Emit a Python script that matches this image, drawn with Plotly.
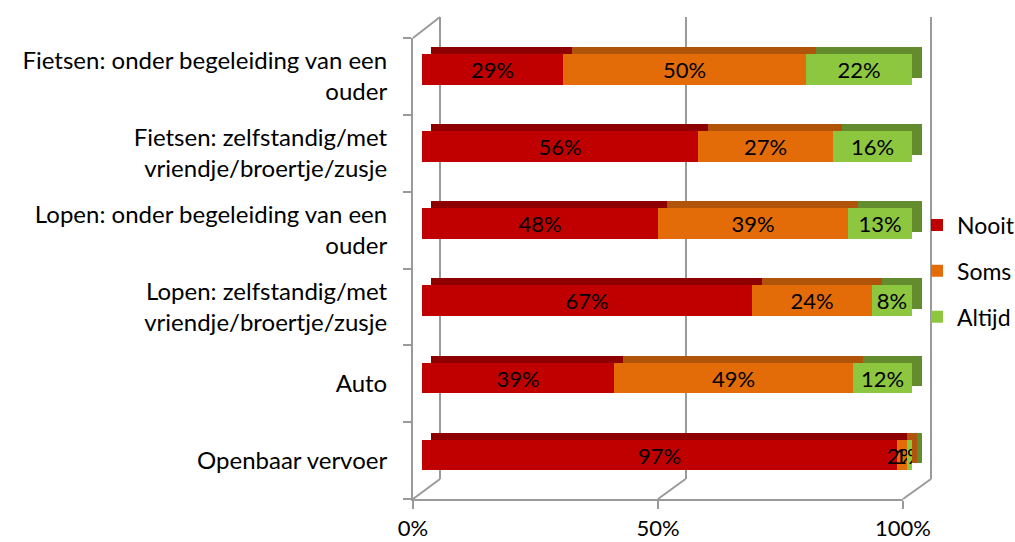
import plotly.graph_objects as go

# ---------------- data ----------------
categories = [
    "Fietsen: onder begeleiding van een<br>ouder",
    "Fietsen: zelfstandig/met<br>vriendje/broertje/zusje",
    "Lopen: onder begeleiding van een<br>ouder",
    "Lopen: zelfstandig/met<br>vriendje/broertje/zusje",
    "Auto",
    "Openbaar vervoer",
]
nooit = [28.7, 56.4, 48.1, 67.4, 39.1, 96.9]
soms = [49.7, 27.4, 38.9, 24.4, 48.9, 2.0]
altijd = [21.6, 16.2, 13.0, 8.2, 12.0, 1.1]
series_names = ["Nooit", "Soms", "Altijd"]
x_ticks = [0, 50, 100]
x_ticktext = ["0%", "50%", "100%"]

# ---------------- style ----------------
W, H = 1015, 542
FONT = "Lato"
front_colors = ["#C00000", "#E36C09", "#8DC63F"]
shade_colors = ["#8E0000", "#B0540A", "#638C2E"]
grid_col = "#9A9A9A"


def dx(a, b):
    return [a / W, b / W]


def dy(top, bottom):
    return [1 - bottom / H, 1 - top / H]


values = [nooit, soms, altijd]
rows = list(range(len(categories)))
bar_w = 0.40

fig = go.Figure()

# back wall (gridlines) subplot: xy
fig.add_trace(go.Scatter(x=[], y=[], xaxis="x", yaxis="y", showlegend=False, hoverinfo="skip"))

# shaded depth bars: x2y2
for name, vals, col in zip(series_names, values, shade_colors):
    fig.add_trace(go.Bar(
        y=rows, x=vals, orientation="h", xaxis="x2", yaxis="y2",
        marker=dict(color=col, line=dict(width=0)), width=bar_w,
        showlegend=False, hoverinfo="skip",
    ))

# front bars: x3y3
for name, vals, col in zip(series_names, values, front_colors):
    fig.add_trace(go.Bar(
        y=rows, x=vals, orientation="h", xaxis="x3", yaxis="y3", name=name,
        marker=dict(color=col, line=dict(width=0)), width=bar_w,
        text=vals, texttemplate="%{x:.0f}%", textposition="inside",
        insidetextanchor="middle", textangle=0,
        textfont=dict(family=FONT, size=22, color="#000000"),
        legendgroup=name,
    ))

# frame subplot: x4y4
fig.add_trace(go.Scatter(x=[], y=[], xaxis="x4", yaxis="y4", showlegend=False, hoverinfo="skip"))

back_x, back_y = (440, 931), (17, 479)
shade_x, shade_y = (431, 922), (24, 486.6)
front_x, front_y = (422, 912), (31, 493.6)
frame_x, frame_y = (413, 903), (38, 499)

# back-wall axis padded slightly so edge gridlines are drawn
pad = 1.0
ppu = (back_x[1] - back_x[0]) / 100
back_dom = dx(back_x[0] - pad * ppu, back_x[1] + pad * ppu)

hidden = dict(visible=False, fixedrange=True)
fig.update_layout(
    width=W, height=H,
    margin=dict(l=0, r=0, t=0, b=0, autoexpand=False),
    paper_bgcolor="white", plot_bgcolor="rgba(0,0,0,0)",
    barmode="stack", bargap=0,
    font=dict(family=FONT, size=24, color="#000000"),
    uniformtext=dict(minsize=22, mode="show"),
    xaxis=dict(domain=back_dom, range=[-pad, 100 + pad], tickvals=x_ticks, showticklabels=False,
               showgrid=True, gridcolor=grid_col, gridwidth=2, zeroline=False, showline=False,
               ticks="", anchor="y", fixedrange=True),
    yaxis=dict(domain=dy(*back_y), range=[0, 1], visible=False, anchor="x", fixedrange=True),
    xaxis2=dict(domain=dx(*shade_x), range=[0, 100], anchor="y2", **hidden),
    yaxis2=dict(domain=dy(*shade_y), range=[len(rows) - 0.5, -0.5], anchor="x2", **hidden),
    xaxis3=dict(domain=dx(*front_x), range=[0, 100], anchor="y3", **hidden),
    yaxis3=dict(domain=dy(*front_y), range=[len(rows) - 0.5, -0.5], anchor="x3", **hidden),
    xaxis4=dict(domain=dx(*frame_x), range=[0, 100], anchor="y4", tickvals=x_ticks,
                ticktext=x_ticktext, ticks="outside", ticklen=8, tickwidth=2, tickcolor=grid_col,
                showline=True, linecolor=grid_col, linewidth=2, showgrid=False, zeroline=False,
                ticklabelstandoff=1, tickfont=dict(size=22), fixedrange=True),
    yaxis4=dict(domain=dy(*frame_y), range=[len(rows), 0], anchor="x4",
                tickvals=[r + 0.5 for r in rows], ticktext=categories, ticks="",
                minor=dict(tickvals=list(range(len(rows) + 1)), ticks="outside", ticklen=8,
                           tickwidth=2, tickcolor=grid_col),
                showline=True, linecolor=grid_col, linewidth=2, showgrid=False, zeroline=False,
                ticklabelstandoff=19, tickfont=dict(size=24), fixedrange=True),
    legend=dict(x=917 / W, y=0.5, xanchor="left", yanchor="middle", font=dict(size=23),
                tracegroupgap=13, bgcolor="rgba(0,0,0,0)", itemwidth=30),
)

# 3D frame connectors (floor diagonals and top-left edge)
def fx(v):
    return (frame_x[0] + (frame_x[1] - frame_x[0]) * v / 100) / W


def bx(v):
    return (back_x[0] + (back_x[1] - back_x[0]) * v / 100) / W


for v in x_ticks:
    fig.add_shape(type="line", xref="paper", yref="paper",
                  x0=fx(v), y0=1 - frame_y[1] / H, x1=bx(v), y1=1 - back_y[1] / H,
                  line=dict(color=grid_col, width=2))
fig.add_shape(type="line", xref="paper", yref="paper",
              x0=fx(0), y0=1 - frame_y[0] / H, x1=bx(0), y1=1 - back_y[0] / H,
              line=dict(color=grid_col, width=2))

fig.write_html("out.html", config={"displayModeBar": False},
               post_script="document.body.style.margin='0';document.body.style.overflow='hidden';")
